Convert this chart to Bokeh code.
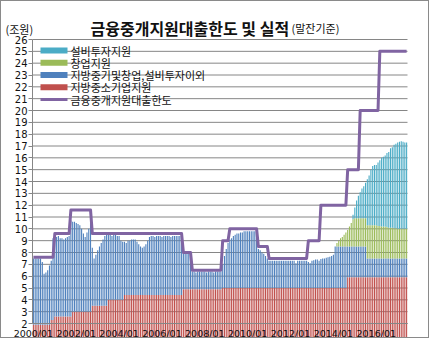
from bokeh.plotting import figure
from bokeh.models import ColumnDataSource, Range1d, FixedTicker, Label
from bokeh.core.properties import value
from bokeh.embed import file_html
from bokeh.resources import INLINE

# ---------------- data ----------------
title_main = "금융중개지원대출한도 및 실적"
title_sub = "(말잔기준)"
unit_label = "(조원)"
series_names = ["지방중소기업지원", "지방중기및창업,설비투자이외", "창업지원", "설비투자지원"]
limit_name = "금융중개지원대출한도"
tick_labels = ["2000/01", "2002/01", "2004/01", "2006/01", "2008/01",
               "2010/01", "2012/01", "2014/01", "2016/01"]
y_ticks = [2, 3, 4, 5, 6, 7, 8, 9, 10, 11, 12, 13, 14, 15, 16, 17, 18, 19, 20,
           21, 22, 23, 24, 25, 26]

# monthly values 2000/01 .. 2017/06 (one year per line), 조원
local_sme = [  # 지방중소기업지원
    1.9, 1.9, 1.9, 1.9, 1.9, 1.9, 1.9, 1.9, 1.9, 1.9, 2.3, 2.3,
    2.6, 2.6, 2.6, 2.6, 2.6, 2.6, 2.6, 2.6, 2.6, 2.6, 3.0, 3.0,
    3.0, 3.0, 3.0, 3.0, 3.0, 3.0, 3.0, 3.0, 3.0, 3.5, 3.5, 3.5,
    3.5, 3.5, 3.5, 3.5, 3.5, 3.5, 4.0, 4.0, 4.0, 4.0, 4.0, 4.0,
    4.0, 4.0, 4.0, 4.4, 4.4, 4.4, 4.4, 4.4, 4.4, 4.4, 4.4, 4.4,
    4.4, 4.4, 4.4, 4.4, 4.4, 4.4, 4.4, 4.4, 4.4, 4.4, 4.4, 4.4,
    4.4, 4.4, 4.4, 4.4, 4.4, 4.4, 4.4, 4.4, 4.4, 4.4, 4.4, 4.4,
    4.9, 4.9, 4.9, 4.9, 4.9, 4.9, 4.9, 4.9, 4.9, 4.9, 4.9, 4.9,
    4.9, 4.9, 4.9, 4.9, 4.9, 4.9, 4.9, 4.9, 4.9, 4.9, 5.0, 5.0,
    5.0, 5.0, 5.0, 5.0, 5.0, 5.0, 5.0, 5.0, 5.0, 5.0, 5.0, 5.0,
    5.0, 5.0, 5.0, 5.0, 5.0, 5.0, 5.0, 5.0, 5.0, 5.0, 5.0, 5.0,
    5.0, 5.0, 5.0, 5.0, 5.0, 5.0, 5.0, 5.0, 5.0, 5.0, 5.0, 5.0,
    5.0, 5.0, 5.0, 5.0, 5.0, 5.0, 5.0, 5.0, 5.0, 5.0, 5.0, 5.0,
    5.0, 5.0, 5.0, 5.0, 5.0, 5.0, 5.0, 5.0, 5.0, 5.0, 5.0, 5.0,
    5.0, 5.0, 5.0, 5.0, 5.0, 5.0, 5.0, 5.0, 5.9, 5.9, 5.9, 5.9,
    5.9, 5.9, 5.9, 5.9, 5.9, 5.9, 5.9, 5.9, 5.9, 5.9, 5.9, 5.9,
    5.9, 5.9, 5.9, 5.9, 5.9, 5.9, 5.9, 5.9, 5.9, 5.9, 5.9, 5.9,
    5.9, 5.9, 5.9, 5.9, 5.9, 5.9,
]
local_other = [  # 지방중기및창업,설비투자이외
    5.6, 5.6, 5.6, 5.6, 5.6, 5.3, 4.3, 4.4, 4.6, 5.0, 5.0, 6.9,
    6.8, 6.7, 6.8, 6.6, 6.6, 6.5, 6.6, 6.7, 6.8, 8.1, 7.6, 7.6,
    7.5, 7.4, 7.3, 7.0, 6.6, 6.3, 6.7, 7.0, 7.6, 4.9, 4.0, 4.3,
    4.7, 5.0, 5.3, 5.6, 5.9, 6.0, 5.5, 5.5, 5.4, 5.5, 5.5, 5.4,
    5.4, 5.0, 4.9, 4.5, 4.4, 4.6, 4.6, 4.7, 4.7, 4.7, 4.5, 4.3,
    4.1, 4.0, 4.1, 4.3, 4.6, 4.9, 5.0, 5.0, 4.9, 5.0, 5.0, 5.0,
    4.9, 5.0, 5.0, 5.0, 5.0, 4.9, 5.0, 5.0, 5.0, 5.0, 5.0, 5.0,
    3.0, 3.0, 3.0, 3.0, 3.0, 1.5, 1.5, 1.4, 1.5, 1.5, 1.5, 1.5,
    1.5, 1.4, 1.5, 1.5, 1.5, 1.4, 1.5, 1.5, 1.5, 1.5, 2.0, 2.7,
    3.3, 3.8, 4.1, 4.2, 4.4, 4.5, 4.6, 4.6, 4.7, 4.7, 4.8, 4.8,
    4.8, 4.8, 4.8, 4.8, 4.8, 4.8, 3.3, 3.2, 3.0, 2.9, 2.7, 2.5,
    2.3, 2.3, 2.3, 2.3, 2.3, 2.3, 2.3, 2.3, 2.3, 2.3, 2.3, 2.3,
    2.3, 2.3, 2.3, 2.1, 2.3, 2.3, 2.3, 2.3, 2.3, 2.3, 2.2, 2.1,
    2.3, 2.35, 2.4, 2.4, 2.3, 2.45, 2.5, 2.5, 2.55, 2.6, 2.65, 2.7,
    2.8, 3.5, 3.5, 3.5, 3.5, 3.5, 3.5, 3.5, 2.6, 2.6, 2.6, 2.6,
    2.6, 2.6, 2.6, 2.6, 2.6, 2.6, 2.6, 1.6, 1.6, 1.6, 1.6, 1.6,
    1.6, 1.6, 1.6, 1.6, 1.6, 1.6, 1.6, 1.6, 1.6, 1.6, 1.6, 1.6,
    1.6, 1.6, 1.6, 1.6, 1.6, 1.6,
]
startup = [  # 창업지원
    0, 0, 0, 0, 0, 0, 0, 0, 0, 0, 0, 0,
    0, 0, 0, 0, 0, 0, 0, 0, 0, 0, 0, 0,
    0, 0, 0, 0, 0, 0, 0, 0, 0, 0, 0, 0,
    0, 0, 0, 0, 0, 0, 0, 0, 0, 0, 0, 0,
    0, 0, 0, 0, 0, 0, 0, 0, 0, 0, 0, 0,
    0, 0, 0, 0, 0, 0, 0, 0, 0, 0, 0, 0,
    0, 0, 0, 0, 0, 0, 0, 0, 0, 0, 0, 0,
    0, 0, 0, 0, 0, 0, 0, 0, 0, 0, 0, 0,
    0, 0, 0, 0, 0, 0, 0, 0, 0, 0, 0, 0,
    0, 0, 0, 0, 0, 0, 0, 0, 0, 0, 0, 0,
    0, 0, 0, 0, 0, 0, 0, 0, 0, 0, 0, 0,
    0, 0, 0, 0, 0, 0, 0, 0, 0, 0, 0, 0,
    0, 0, 0, 0, 0, 0, 0, 0, 0, 0, 0, 0,
    0, 0, 0, 0, 0, 0, 0, 0, 0, 0, 0, 0,
    0, 0, 0.3, 0.5, 0.7, 0.8, 1.0, 1.2, 1.4, 1.7, 2.0, 2.3,
    2.4, 2.4, 2.4, 2.4, 2.4, 2.4, 2.4, 2.8, 2.8, 2.8, 2.8, 2.8,
    2.8, 2.75, 2.75, 2.7, 2.7, 2.7, 2.65, 2.6, 2.6, 2.6, 2.55, 2.55,
    2.5, 2.5, 2.5, 2.5, 2.5, 2.5,
]
facility = [  # 설비투자지원
    0, 0, 0, 0, 0, 0, 0, 0, 0, 0, 0, 0,
    0, 0, 0, 0, 0, 0, 0, 0, 0, 0, 0, 0,
    0, 0, 0, 0, 0, 0, 0, 0, 0, 0, 0, 0,
    0, 0, 0, 0, 0, 0, 0, 0, 0, 0, 0, 0,
    0, 0, 0, 0, 0, 0, 0, 0, 0, 0, 0, 0,
    0, 0, 0, 0, 0, 0, 0, 0, 0, 0, 0, 0,
    0, 0, 0, 0, 0, 0, 0, 0, 0, 0, 0, 0,
    0, 0, 0, 0, 0, 0, 0, 0, 0, 0, 0, 0,
    0, 0, 0, 0, 0, 0, 0, 0, 0, 0, 0, 0,
    0, 0, 0, 0, 0, 0, 0, 0, 0, 0, 0, 0,
    0, 0, 0, 0, 0, 0, 0, 0, 0, 0, 0, 0,
    0, 0, 0, 0, 0, 0, 0, 0, 0, 0, 0, 0,
    0, 0, 0, 0, 0, 0, 0, 0, 0, 0, 0, 0,
    0, 0, 0, 0, 0, 0, 0, 0, 0, 0, 0, 0,
    0, 0, 0, 0, 0, 0, 0, 0, 0, 0, 0, 0.4,
    0.9, 1.5, 1.9, 2.2, 2.5, 2.7, 3.0, 3.9, 4.2, 4.7, 5.0, 5.1,
    5.1, 5.35, 5.55, 5.8, 5.9, 6.0, 6.25, 6.4, 6.7, 6.8, 7.05, 7.15,
    7.3, 7.35, 7.4, 7.35, 7.3, 7.3,
]
loan_limit = [  # 금융중개지원대출한도
    7.6, 7.6, 7.6, 7.6, 7.6, 7.6, 7.6, 7.6, 7.6, 7.6, 7.6, 7.6,
    9.6, 9.6, 9.6, 9.6, 9.6, 9.6, 9.6, 9.6, 9.6, 11.6, 11.6, 11.6,
    11.6, 11.6, 11.6, 11.6, 11.6, 11.6, 11.6, 11.6, 11.6, 9.6, 9.6, 9.6,
    9.6, 9.6, 9.6, 9.6, 9.6, 9.6, 9.6, 9.6, 9.6, 9.6, 9.6, 9.6,
    9.6, 9.6, 9.6, 9.6, 9.6, 9.6, 9.6, 9.6, 9.6, 9.6, 9.6, 9.6,
    9.6, 9.6, 9.6, 9.6, 9.6, 9.6, 9.6, 9.6, 9.6, 9.6, 9.6, 9.6,
    9.6, 9.6, 9.6, 9.6, 9.6, 9.6, 9.6, 9.6, 9.6, 9.6, 9.6, 9.6,
    8.0, 8.0, 8.0, 8.0, 8.0, 6.5, 6.5, 6.5, 6.5, 6.5, 6.5, 6.5,
    6.5, 6.5, 6.5, 6.5, 6.5, 6.5, 6.5, 6.5, 6.5, 6.5, 9.0, 9.0,
    9.0, 9.0, 10.0, 10.0, 10.0, 10.0, 10.0, 10.0, 10.0, 10.0, 10.0, 10.0,
    10.0, 10.0, 10.0, 10.0, 10.0, 10.0, 8.5, 8.5, 8.5, 8.5, 8.5, 8.5,
    7.5, 7.5, 7.5, 7.5, 7.5, 7.5, 7.5, 7.5, 7.5, 7.5, 7.5, 7.5,
    7.5, 7.5, 7.5, 7.5, 7.5, 7.5, 7.5, 7.5, 7.5, 7.5, 9.0, 9.0,
    9.0, 9.0, 9.0, 9.0, 9.0, 12.0, 12.0, 12.0, 12.0, 12.0, 12.0, 12.0,
    12.0, 12.0, 12.0, 12.0, 12.0, 12.0, 12.0, 12.0, 15.0, 15.0, 15.0, 15.0,
    15.0, 15.0, 15.0, 20.0, 20.0, 20.0, 20.0, 20.0, 20.0, 20.0, 20.0, 20.0,
    20.0, 20.0, 25.0, 25.0, 25.0, 25.0, 25.0, 25.0, 25.0, 25.0, 25.0, 25.0,
    25.0, 25.0, 25.0, 25.0, 25.0, 25.0,
]

months = [f"{2000 + k // 12}/{k % 12 + 1:02d}" for k in range(len(loan_limit))]
xs = list(range(len(months)))
nmon = len(months)

colors = ["#C0504D", "#4F81BD", "#9BBB59", "#4BACC6"]
line_color = "#8064A2"
grid_color = "#868686"
text_color = "#111111"

# ---------------- layout (pixels in the page) ----------------
W, H = 429, 338          # canvas; a 1px CSS border surrounds it
OFF = 1                  # border offset
PL, PR, PT, PB = 32, 407, 39, 323   # plot-area edges in page pixels
x_lo, x_hi = -0.5, nmon - 0.5
y_lo, y_hi = y_ticks[0], y_ticks[-1]
kx = (x_hi - x_lo) / (PR - PL)
ky = (y_hi - y_lo) / (PB - PT)

def dx(px):
    return x_lo + (px - PL) * kx

def dy(py):
    return y_lo + (PB - py) * ky

p = figure(width=W, height=H,
           x_range=Range1d(dx(OFF), dx(OFF + W)),
           y_range=Range1d(dy(OFF + H), dy(OFF)),
           output_backend="svg", toolbar_location=None, title=None,
           min_border=0, min_border_left=0, min_border_right=0,
           min_border_top=0, min_border_bottom=0)
p.styles = {"border": "1px solid #8a8a8a"}
p.outline_line_color = None
p.background_fill_color = "white"
p.border_fill_color = "white"
p.xgrid.visible = False
p.ygrid.visible = False

# horizontal gridlines across the plot area only
grid_src = ColumnDataSource(dict(y=y_ticks, x0=[x_lo] * len(y_ticks), x1=[x_hi] * len(y_ticks)))
p.segment(x0="x0", y0="y", x1="x1", y1="y", source=grid_src, line_color=grid_color,
          line_width=1, level="underlay")

src = ColumnDataSource(dict(x=xs, month=months, red=local_sme, blue=local_other,
                            green=startup, cyan=facility, limit=loan_limit))
p.vbar_stack(["red", "blue", "green", "cyan"], x="x", width=0.62,
             fill_color=colors, line_color=None, source=src)
p.line("x", "limit", source=src, line_color=line_color, line_width=3, line_join="round")

# axes drawn at the plot-area edges
p.yaxis.fixed_location = x_lo
p.yaxis.bounds = (y_lo, y_hi)
p.yaxis.ticker = FixedTicker(ticks=y_ticks)
p.yaxis.axis_line_color = grid_color
p.yaxis.major_tick_line_color = grid_color
p.yaxis.major_tick_out = 4
p.yaxis.major_tick_in = 0
p.yaxis.minor_tick_line_color = None
p.yaxis.major_label_standoff = 1
p.yaxis.major_label_text_font = "DejaVu Sans"
p.yaxis.major_label_text_font_size = "10px"
p.yaxis.major_label_text_color = text_color

tick_pos = [months.index(t) for t in tick_labels]
p.xaxis.fixed_location = y_lo
p.xaxis.bounds = (x_lo, x_hi)
p.xaxis.ticker = FixedTicker(ticks=tick_pos)
p.xaxis.major_label_overrides = {pos: lab for pos, lab in zip(tick_pos, tick_labels)}
p.xaxis.axis_line_color = grid_color
p.xaxis.major_tick_line_color = None
p.xaxis.major_tick_out = 0
p.xaxis.major_tick_in = 0
p.xaxis.minor_tick_line_color = None
p.xaxis.minor_tick_out = 0
p.xaxis.major_label_standoff = 4
p.xaxis.major_label_text_font = "DejaVu Sans"
p.xaxis.major_label_text_font_size = "9.5px"
p.xaxis.major_label_text_color = text_color

# legend (drawn by hand so the rows are as tight as in the reference)
leg_labels = [series_names[3], series_names[2], series_names[1], series_names[0], limit_name]
leg_colors = [colors[3], colors[2], colors[1], colors[0], line_color]
leg_heights = [6, 6, 6, 6, 3]
row_py = [50 + 12.25 * k for k in range(len(leg_labels))]
leg_src = ColumnDataSource(dict(
    sx=[dx(53.5)] * len(leg_labels), tx=[dx(70)] * len(leg_labels),
    y=[dy(py) for py in row_py], h=leg_heights, color=leg_colors, label=leg_labels))
p.rect(x="sx", y="y", width=27, height="h", width_units="screen", height_units="screen",
       fill_color="color", line_color=None, source=leg_src)
p.text(x="tx", y="y", text="label", source=leg_src, text_font=value("Noto Sans CJK KR"),
       text_font_size="11px", text_color=text_color, text_baseline="middle", text_align="left")

# titles
p.add_layout(Label(x=dx(90), y=dy(27), text=title_main, text_font="Noto Sans CJK KR",
                   text_font_size="16px", text_font_style="bold", text_color=text_color,
                   text_align="left", text_baseline="alphabetic"))
p.add_layout(Label(x=dx(291), y=dy(27), text=title_sub, text_font="Noto Sans CJK KR",
                   text_font_size="11px", text_color=text_color, text_align="left",
                   text_baseline="alphabetic"))
p.add_layout(Label(x=dx(5), y=dy(28), text=unit_label, text_font="Noto Sans CJK KR",
                   text_font_size="11px", text_color=text_color, text_align="left",
                   text_baseline="alphabetic"))

open("out.html", "w").write(file_html(p, INLINE))
